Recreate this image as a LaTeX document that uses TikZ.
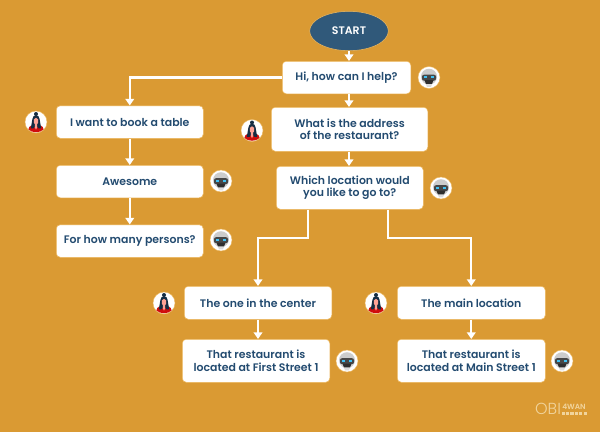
\documentclass[tikz,border=0pt]{standalone}
\usepackage{fontspec}
\setmainfont{Poppins SemiBold}
\newfontfamily\logothin{Poppins Light}
\usetikzlibrary{arrows.meta,calc,shapes.geometric}
\definecolor{bgc}{HTML}{DA9A33}
\definecolor{txt}{HTML}{234B70}
\definecolor{ell}{HTML}{30597A}
\definecolor{edgec}{HTML}{EDB85F}
\definecolor{logoc}{HTML}{F1D49C}
\tikzset{
  x=0.75pt,y=-0.75pt,
  msg/.style={draw=edgec,line width=0.4pt,fill=white,rounded corners=3pt,text=txt,align=center,
    font=\fontsize{8.2}{9.5}\selectfont,inner sep=0pt,anchor=north west},
  startnode/.style={draw=edgec,line width=0.4pt,fill=ell,ellipse,text=white,inner sep=0pt,
    font=\fontsize{8.2}{9.5}\selectfont},
  link/.style={draw=white,line width=1.6pt,-{Triangle[length=5pt,width=6.5pt]}},
  avatarbase/.style={circle,fill=white,draw=edgec,line width=0.3pt,minimum size=16.5pt,inner sep=0pt},
}
\newcommand{\msgbox}[6]{% name, x1,y1,x2,y2,text
  \pgfmathsetmacro{\bw}{(#4-#2)*0.75}\pgfmathsetmacro{\bh}{(#5-#3)*0.75}
  \node[msg,minimum width=\bw pt,minimum height=\bh pt] (#1) at (#2,#3) {#6};}
\newcommand{\robot}[3]{% name,x,y
  \node[avatarbase] (#1) at (#2,#3) {};
  \begin{scope}[shift={(#2,#3)}]
    \fill[black!20] (0,-0.8) circle[radius=8];
    \fill[black!14] (-3.4,6) -- (3.4,6) -- (2,9.3) -- (-2,9.3) -- cycle;
    \fill[black!72,rounded corners=1.5pt] (-7,-2.8) rectangle (7,3.2);
    \fill[black!82] (-4.6,2.5) -- (4.6,2.5) -- (3,6.4) -- (-3,6.4) -- cycle;
    \fill[cyan!75!white] (-4.9,-1.2) rectangle (-1.9,0.7);
    \fill[cyan!75!white] (1.9,-1.2) rectangle (4.9,0.7);
  \end{scope}}
\newcommand{\person}[3]{% name,x,y
  \node[avatarbase] (#1) at (#2,#3) {};
  \begin{scope}[shift={(#2,#3)}]
    \fill[red!80!black!95] (-7.6,7.4) .. controls (-7,3.5) and (-4,3) .. (0,3) .. controls (4,3) and (7,3.5) .. (7.6,7.4) .. controls (4,11.2) and (-4,11.2) .. (-7.6,7.4) -- cycle;
    \fill[txt!60!black] (0,-8) circle[radius=2];
    \fill[txt!60!black] (-3.6,-3) .. controls (-3.6,-8) and (3.6,-8) .. (3.6,-3) -- (5.2,6.4) -- (2.5,6.4) -- (0,3) -- (-2.5,6.4) -- (-5.2,6.4) -- cycle;
    \fill[red!35!white!90!orange] (-2.2,-2.6) .. controls (-1.8,-4.8) and (1.8,-4.8) .. (2.2,-2.6) -- (2,1) -- (1.1,2) -- (1.1,5.6) -- (0,7.6) -- (-1.1,5.6) -- (-1.1,2) -- (-2,1) -- cycle;
  \end{scope}}
\begin{document}
\begin{tikzpicture}
\useasboundingbox (0,0) rectangle (600,432);
\fill[bgc] (0,0) rectangle (600,432);
\node[startnode,minimum width=59pt,minimum height=29.5pt] (start) at (349,31) {START};
\msgbox{hi}{282}{61}{410.5}{93.5}{Hi, how can I help?}
\msgbox{what}{271}{107}{427.5}{151}{What is the address\\of the restaurant?}
\msgbox{which}{276}{166}{423}{209}{Which location would\\you like to go to?}
\msgbox{book}{56}{105.5}{203}{138}{I want to book a table}
\msgbox{awesome}{56}{165}{203}{197.5}{Awesome}
\msgbox{persons}{56}{224.5}{203}{257}{For how many persons?}
\msgbox{center}{184}{286}{331.5}{319}{The one in the center}
\msgbox{mainloc}{397}{286}{545}{319}{The main location}
\msgbox{first}{182}{339}{329.5}{382}{That restaurant is\\located at First Street 1}
\msgbox{mainst}{397}{339}{545}{382}{That restaurant is\\located at Main Street 1}
\draw[link] (start.south) -- (hi.north -| start.south);
\draw[link] (hi.south -| start.south) -- (what.north -| start.south);
\draw[link] (what.south -| start.south) -- (which.north -| start.south);
\draw[link] (hi.west) -- (hi.west -| book.north) -- (book.north);
\draw[link] (book) -- (awesome);
\draw[link] (awesome) -- (persons);
\coordinate (wl) at (308,238);
\coordinate (wr) at (388,238);
\draw[link] (which.south -| wl) -- (wl) -- (wl -| center.north) -- (center.north);
\draw[link] (which.south -| wr) -- (wr) -- (wr -| mainloc.north) -- (mainloc.north);
\draw[link] (center) -- (center.south |- first.north);
\draw[link] (mainloc) -- (mainst);
\robot{r1}{429}{77.5}
\person{u1}{252}{130.5}
\robot{r2}{441}{188}
\person{u2}{36}{122}
\robot{r3}{221}{181}
\robot{r4}{221}{240}
\person{u3}{164}{303}
\person{u4}{376}{303}
\robot{r5}{347}{361}
\robot{r6}{562}{361}
\node[text=logoc,font={\logothin\fontsize{12}{12}\selectfont},inner sep=0pt] (logoa) at (548,408.5) {OBI};
\node[text=logoc,font=\fontsize{5.6}{6}\selectfont,inner sep=0pt] (logob) at (574,406.5) {4WAN};
\foreach \k in {0,...,5} \fill[logoc] ({561.5+\k*4.4},411.5) rectangle ++(3.2,3);
\end{tikzpicture}
\end{document}
